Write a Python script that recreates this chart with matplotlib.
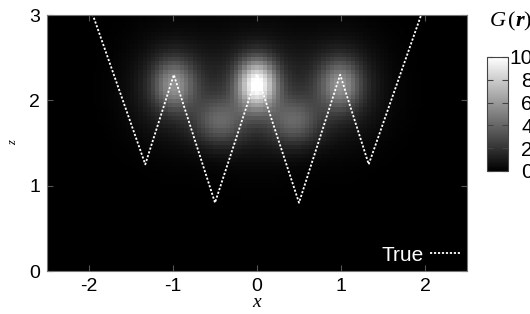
import matplotlib
matplotlib.use('Agg')
import matplotlib.pyplot as plt
import numpy as np

# true boundary (zigzag)
true_x = [-2.15, -1.33, -0.99, -0.5, 0.0, 0.5, 0.99, 1.33, 2.15]
true_z = [3.55, 1.25, 2.3, 0.8, 2.3, 0.8, 2.3, 1.25, 3.55]

# reconstructed G(r) blobs: centre x, centre z, amplitude, sigma x, sigma z
blob_x = [0.0, -1.0, 1.0, -0.45, 0.45, 0.0, -1.0, 1.0]
blob_z = [2.2, 2.2, 2.2, 1.75, 1.75, 2.1, 2.15, 2.15]
blob_a = [8.5, 4.0, 4.0, 3.0, 3.0, 2.0, 1.8, 1.8]
blob_sx = [0.16, 0.17, 0.17, 0.22, 0.22, 0.4, 0.35, 0.35]
blob_sz = [0.2, 0.2, 0.2, 0.2, 0.2, 0.45, 0.4, 0.4]

cbar_ticks = [0, 2, 4, 6, 8, 10]

xg = np.arange(-2.5, 2.5001, 0.05)
zg = np.arange(0.0, 3.0001, 0.05)
X, Z = np.meshgrid(xg, zg)
G = np.zeros_like(X)
for bx, bz, ba, sx, sz in zip(blob_x, blob_z, blob_a, blob_sx, blob_sz):
    G += ba * np.exp(-((X - bx) ** 2 / (2 * sx ** 2) + (Z - bz) ** 2 / (2 * sz ** 2)))
G = np.clip(G, 0, 10)

plt.rcParams['font.family'] = ['Liberation Sans', 'DejaVu Sans']
plt.rcParams['axes.unicode_minus'] = False
plt.rcParams['mathtext.fontset'] = 'custom'
plt.rcParams['mathtext.rm'] = 'Liberation Serif'
plt.rcParams['mathtext.it'] = 'Liberation Serif:italic'
plt.rcParams['mathtext.bf'] = 'Liberation Serif:italic:bold'

fig = plt.figure(figsize=(5.3, 3.14), dpi=100)
ax = fig.add_axes([47 / 530, 1 - 271 / 314, 420 / 530, 256 / 314])
im = ax.imshow(G, cmap='gray', vmin=0, vmax=10, origin='lower',
               extent=[-2.5, 2.5, 0, 3], aspect='auto', interpolation='nearest')
ax.plot(true_x, true_z, color='white', ls=(0, (1.2, 1.0)), lw=1.3, label='True')
ax.set_xlim(-2.5, 2.5)
ax.set_ylim(0, 3)
ax.set_xticks([-2, -1, 0, 1, 2])
ax.set_yticks([0, 1, 2, 3])
ax.tick_params(direction='in', labelsize=14, length=4, color='#555555',
               right=True, top=True, pad=5)
for s in ax.spines.values():
    s.set_color('#777777')
ax.set_xlabel('x', family='Liberation Serif', style='italic', fontsize=14, labelpad=-1)
ax.set_ylabel('z', family='Liberation Serif', style='italic', fontsize=9, labelpad=7)
leg = ax.legend(loc='lower right', frameon=False, fontsize=15, markerfirst=False,
                handlelength=1.5, handletextpad=0.3, borderaxespad=0.1, borderpad=0.2)
for t in leg.get_texts():
    t.set_color('white')

cax = fig.add_axes([487 / 530, 1 - 171 / 314, 21 / 530, 114 / 314])
cb = fig.colorbar(im, cax=cax, ticks=cbar_ticks)
cb.outline.set_edgecolor('#444444')
cax.tick_params(direction='in', labelsize=15, length=4, color='#444444',
                left=True, right=True, pad=18)
for lab in cax.get_yticklabels():
    lab.set_horizontalalignment('right')
fig.text(489 / 530, 1 - 21 / 314, r'$G\,(\mathbf{r})$', fontsize=16,
         va='center', ha='left')

fig.savefig('out.png', dpi=100)
